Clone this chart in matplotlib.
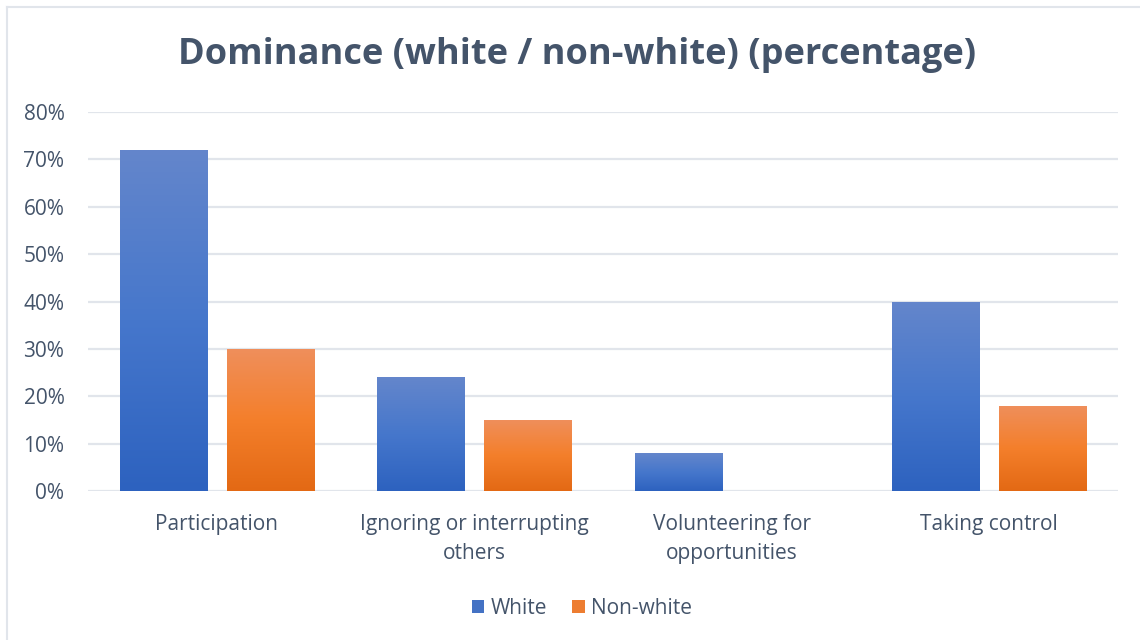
import matplotlib.pyplot as plt
import numpy as np
from matplotlib.colors import LinearSegmentedColormap
from matplotlib.lines import Line2D
from matplotlib.patches import Patch

plt.rcParams["font.family"] = ["Open Sans", "DejaVu Sans"]

categories = ["Participation", "Ignoring or interrupting\nothers",
              "Volunteering for\nopportunities", "Taking control"]
white = [72, 24, 8, 40]
non_white = [30, 15, 0, 18]
yticks = [0, 10, 20, 30, 40, 50, 60, 70, 80]

text_color = "#44546A"
grid_color = "#E1E5EB"

# gradients: lighter at the top, darker at the bottom
blue_cmap = LinearSegmentedColormap.from_list("blue", ["#2D62BF", "#4677CC", "#6486CB"])
orange_cmap = LinearSegmentedColormap.from_list("orange", ["#E36914", "#F47F2B", "#EF8F5C"])

fig = plt.figure(figsize=(11.4, 6.4), dpi=100)
ax = fig.add_axes([88 / 1140, 1 - 491 / 640, 1030 / 1140, 379 / 640])

x = np.arange(len(categories))
w = 0.338
off = 0.208

grad = np.linspace(0, 1, 256).reshape(-1, 1)


def gradient_bars(xs, vals, cmap):
    bars = ax.bar(xs, vals, width=w, color="none", zorder=3)
    for b in bars:
        if b.get_height() <= 0:
            continue
        x0, y0 = b.get_x(), b.get_y()
        im = ax.imshow(grad, cmap=cmap, origin="lower", aspect="auto",
                       extent=[x0, x0 + b.get_width(), y0, y0 + b.get_height()],
                       zorder=3)
        im.set_clip_path(b)
    return bars


gradient_bars(x - off, white, blue_cmap)
gradient_bars(x + off, non_white, orange_cmap)

ax.set_xlim(-0.5, len(categories) - 0.5)
ax.set_ylim(0, 80)
ax.set_yticks(yticks)
ax.set_yticklabels([f"{v}%" for v in yticks])
ax.set_xticks(x)
ax.set_xticklabels(categories, linespacing=1.5)
ax.yaxis.grid(True, color=grid_color, linewidth=1.6, zorder=0)
ax.set_axisbelow(True)
for s in ax.spines.values():
    s.set_visible(False)
ax.tick_params(axis="both", length=0, colors=text_color, labelsize=15)
ax.tick_params(axis="y", pad=17)
ax.tick_params(axis="x", pad=16.5)

fig.text(577 / 1140, 1 - 55 / 640, "Dominance (white / non-white) (percentage)",
         ha="center", va="center", fontsize=26, fontweight="bold", color=text_color)

handles = [Patch(facecolor="#4472C4", edgecolor="none", label="White"),
           Patch(facecolor="#ED7D31", edgecolor="none", label="Non-white")]
fig.legend(handles=handles, loc="center", bbox_to_anchor=(582 / 1140, 1 - 608 / 640),
           ncol=2, frameon=False, fontsize=15, labelcolor=text_color,
           handlelength=0.6, handleheight=0.6, handletextpad=0.3, columnspacing=1.2)

# chart area border
fig.add_artist(Line2D([6.5 / 1140, 6.5 / 1140], [0, 1 - 7 / 640], color=grid_color, lw=1.5))
fig.add_artist(Line2D([6.5 / 1140, 1], [1 - 7 / 640, 1 - 7 / 640], color=grid_color, lw=1.5))

fig.savefig("out.png", dpi=100)
